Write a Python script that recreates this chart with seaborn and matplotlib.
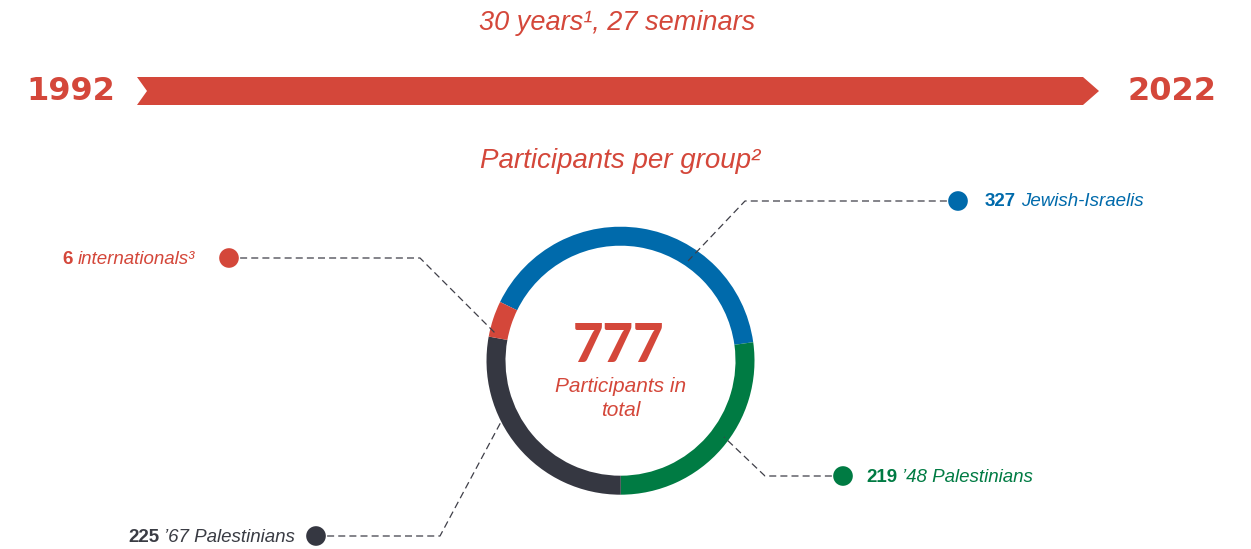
import matplotlib
matplotlib.use("Agg")
import matplotlib.pyplot as plt
from matplotlib import font_manager as fm
from matplotlib.patches import Polygon
import seaborn as sns
import pandas as pd
import numpy as np

# data
groups = ["Jewish-Israelis", "\u201948 Palestinians", "\u201967 Palestinians", "internationals\u00b3"]
counts = [327, 219, 225, 6]
colors = ["#006AAB", "#007B43", "#353741", "#D4473A"]
text_colors = ["#006AAB", "#007B43", "#3A3C44", "#D4473A"]
years = ["1992", "2022"]
title = "30 years\u00b9, 27 seminars"
subtitle = "Participants per group\u00b2"
center_label = ["Participants in", "total"]

# layout in pixel coords (y measured from top)
W, H = 1251, 549
dot_xy = [(958, 201), (843, 476), (316, 536), (229, 258)]
label_x = [985, 866, 295, 195]
label_side = ["left", "left", "right", "right"]
leaders = [
    [(958, 201), (745, 201), (688, 261)],
    [(843, 476), (765, 476), (724, 437)],
    [(316, 536), (440, 536), (502, 420)],
    [(229, 258), (420, 258), (497, 335)],
]
RED = "#D4473A"

sns.set_theme(style="white")
plt.rcParams["font.family"] = ["Liberation Sans", "DejaVu Sans"]

# pick a heavy face for the big total if one is installed
heavy_names = {f.name for f in fm.fontManager.ttflist if f.weight >= 850}
heavy = None
for cand in ["Lato", "Inter", "Roboto", "Open Sans"]:
    if cand in heavy_names:
        heavy = cand
        break

fig = plt.figure(figsize=(W / 100, H / 100), dpi=100)
ax = fig.add_axes([0, 0, 1, 1])


def Y(y):
    return H - y


# donut; the tiny group gets a minimum visible share so it can be seen
total = sum(counts)
shown = np.maximum(np.array(counts, dtype=float), total * 0.045)
cx, cy, r = 620.5, 360.7, 134
ax.pie(shown, colors=colors, startangle=154, counterclock=False,
       radius=r, center=(cx, Y(cy)),
       wedgeprops=dict(width=19, edgecolor="none", linewidth=0))

# timeline arrow
arrow = Polygon([(137, Y(77)), (1083, Y(77)), (1099, Y(91)), (1083, Y(105)),
                 (137, Y(105)), (147, Y(91))], closed=True,
                facecolor=RED, edgecolor="none", zorder=2)
ax.add_patch(arrow)
ax.text(71, Y(91), years[0], color=RED, ha="center", va="center",
        family="DejaVu Sans", fontweight="bold", fontsize=23)
ax.text(1172, Y(91), years[1], color=RED, ha="center", va="center",
        family="DejaVu Sans", fontweight="bold", fontsize=23)

ax.text(617, Y(23), title, fontsize=19.5, fontstyle="italic", color=RED,
        ha="center", va="center")
ax.text(620, Y(161), subtitle, fontsize=20, fontstyle="italic", color=RED,
        ha="center", va="center")

# center text
if heavy:
    nfont = dict(family=heavy, fontweight="black", fontsize=38)
else:
    nfont = dict(fontweight="bold", fontsize=41)
ax.text(cx - 2, Y(346), str(total), color=RED, ha="center", va="center", **nfont)
ax.text(cx, Y(386), center_label[0], fontsize=15, fontstyle="italic",
        color=RED, ha="center", va="center")
ax.text(cx, Y(411), center_label[1], fontsize=15, fontstyle="italic",
        color=RED, ha="center", va="center")

# leader lines
for pts in leaders:
    xs = [p[0] for p in pts]
    ys = [Y(p[1]) for p in pts]
    ax.plot(xs, ys, color="#3F3F48", lw=0.9, linestyle=(0, (5.6, 3.3)),
            zorder=3)

# dots
dots = pd.DataFrame({"x": [p[0] for p in dot_xy],
                     "y": [Y(p[1]) for p in dot_xy],
                     "group": groups})
sns.scatterplot(data=dots, x="x", y="y", hue="group", palette=colors,
                s=200, linewidth=0, legend=False, ax=ax, zorder=4)

ax.set_xlim(0, W)
ax.set_ylim(0, H)
ax.set_aspect("auto")
ax.axis("off")

# labels: bold count + italic group name
fig.canvas.draw()
renderer = fig.canvas.get_renderer()
inv = ax.transData.inverted()
for n, g, lx, (dx, dy), side, tc in zip(counts, groups, label_x, dot_xy,
                                        label_side, text_colors):
    ty = Y(dy) - 1
    if side == "left":
        t1 = ax.text(lx, ty, str(n), fontsize=13.5, fontweight="bold",
                     color=tc, ha="left", va="center")
        bb = t1.get_window_extent(renderer)
        x_end = inv.transform((bb.x1, 0))[0]
        ax.text(x_end + 5, ty, g, fontsize=13.5, fontstyle="italic",
                color=tc, ha="left", va="center")
    else:
        t2 = ax.text(lx, ty, g, fontsize=13.5, fontstyle="italic",
                     color=tc, ha="right", va="center")
        bb = t2.get_window_extent(renderer)
        x_start = inv.transform((bb.x0, 0))[0]
        ax.text(x_start - 5, ty, str(n), fontsize=13.5, fontweight="bold",
                color=tc, ha="right", va="center")

fig.savefig("out.png", dpi=100, facecolor="white")
